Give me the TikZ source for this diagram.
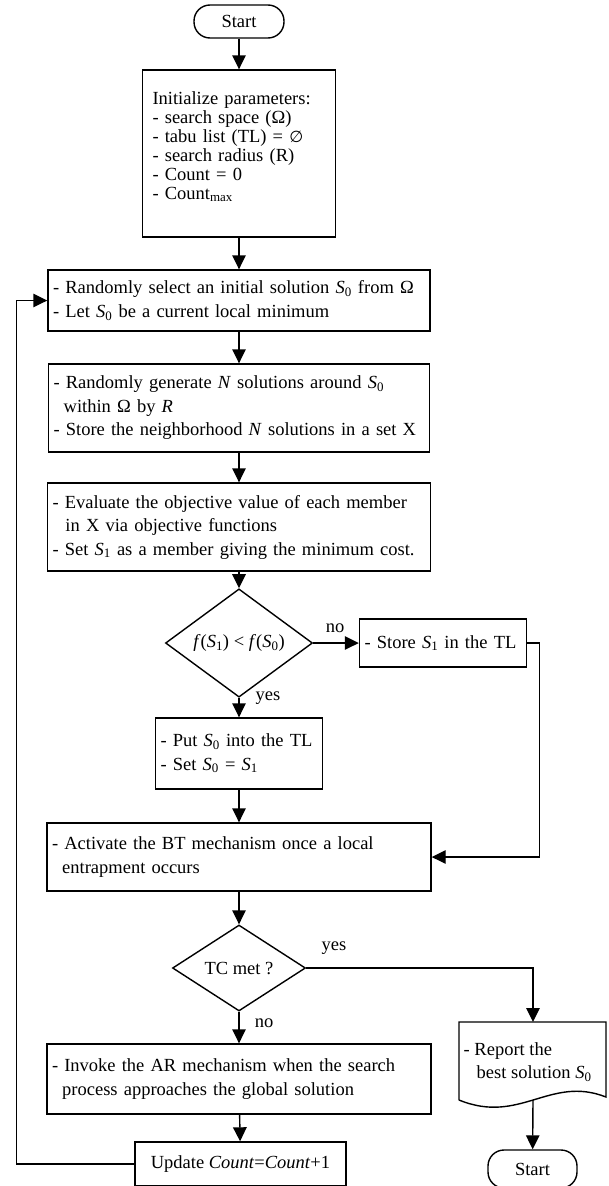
\documentclass[tikz,border=0pt]{standalone}
\usepackage{fontspec}
\setmainfont{Liberation Serif}
\newfontfamily\symfont{DejaVu Sans}
\usetikzlibrary{arrows.meta,shapes.geometric}
\newcommand{\sol}[1]{\textit{S}\textsubscript{#1}}
\newcommand{\ind}{\hspace*{0.55em}}

\begin{document}
\begin{tikzpicture}[x=1pt,y=-1pt,>={Triangle[length=14pt,width=13.5pt]},
        line width=1.4pt,font=\fontsize{18.5}{23.5}\selectfont]
        \tikzset{
            proc/.style={draw,align=left,inner xsep=5pt,inner ysep=0pt,
                text width=#1},
            term/.style={draw,rounded corners=16pt,inner sep=0pt},
            cond/.style={draw,diamond,inner sep=0pt},
            lbl/.style={inner sep=0pt}
        }
        \def\colX{239}
        \useasboundingbox (0,0) rectangle (609,1186);

        % Main column of the search loop.
        \node[term,minimum width=90pt,minimum height=33pt] (start)
            at (\colX,21.5) {Start};
        \node[proc=173pt,inner xsep=10pt,minimum height=167pt,
            font=\fontsize{18.5}{18.9}\selectfont] (init) at (\colX,153.5)
            {Initialize parameters:\\- search space (Ω)\\
             - tabu list (TL) = {\symfont\fontsize{16}{18.9}\selectfont ∅}\\
             - search radius (R)\\
             - Count = 0\\- Count\textsubscript{max}\\[-3pt]\mbox{}};
        \node[proc=372pt,minimum height=61pt] (sel) at (\colX,300.5)
            {- Randomly select an initial solution \sol{0} from Ω\\
             - Let \sol{0} be a current local minimum};
        \node[proc=371pt,minimum height=88pt] (gen) at (\colX,408)
            {- Randomly generate \textit{N} solutions around \sol{0}\\
             \ind within Ω by \textit{R}\\
             - Store the neighborhood \textit{N} solutions in a set X};
        \node[proc=373pt,minimum height=88pt] (eval) at (\colX,527)
            {- Evaluate the objective value of each member\\
             \hspace*{0.7em}in X via objective functions\\
             - Set \sol{1} as a member giving the minimum cost.};
        \node[cond,minimum width=147pt,minimum height=94pt] (better)
            at (\colX,643) {\textit{f}(\sol{1}) < \textit{f}(\sol{0})};
        \node[proc=157pt,minimum height=48pt] (store) at (443,643)
            {- Store \sol{1} in the TL};
        \node[proc=157pt,minimum height=71pt] (put) at (\colX,753.5)
            {- Put \sol{0} into the TL\\- Set \sol{0} = \sol{1}};
        \node[proc=374pt,minimum height=68pt] (bt) at (\colX,857)
            {- Activate the BT mechanism once a local\\
             \ind entrapment occurs};
        \node[cond,minimum width=133pt,minimum height=86pt] (tc)
            at (\colX,968) {TC met ?};
        \node[proc=374pt,minimum height=70pt] (ar) at (\colX,1079)
            {- Invoke the AR mechanism when the search\\
             \ind process approaches the global solution};
        \node[draw,minimum width=211pt,minimum height=44pt,inner sep=0pt]
            (upd) at (240.5,1164) {Update \textit{Count}=\textit{Count}+1};

        % Report sheet with wavy lower edge.
        \draw (459,1100) -- (459,1022) -- (606,1022) -- (606,1097)
            .. controls (550,1075) and (520,1125) .. (459,1100);
        \coordinate (reptop) at (533,1022);
        \coordinate (repbot) at (533,1100);
        \node[lbl,align=left,anchor=west] (rep) at (463,1062)
            {- Report the\\\hspace*{0.7em}best solution \sol{0}};
        \node[term,minimum width=89pt,minimum height=38pt] (stop)
            at (532.5,1169) {Start};

        % Connectors.
        \draw[->] (start) -- (init);
        \draw[->] (init) -- (sel);
        \draw[->] (sel) -- (gen);
        \draw[->] (gen) -- (eval);
        \draw[->] (eval) -- (better);
        \draw[->] (better) -- (store);
        \draw[->] (better) -- (put);
        \draw[->] (store.east) -- ++(12,0) |- (bt.east);
        \draw[->] (put) -- (bt);
        \draw[->] (bt) -- (tc);
        \draw[->] (tc) -- (ar);
        \draw[->] (tc.east) -| (reptop);
        \draw[->] (repbot) -- (stop);
        \draw[->] (ar) -- (upd);
        \draw[->] (upd.west) -- ++(-118,0) |- (sel.west);

        % Branch labels.
        \node[lbl] at (335,628) {no};
        \node[lbl] at (268,698) {yes};
        \node[lbl] at (334,948) {yes};
        \node[lbl] at (264,1023) {no};
    \end{tikzpicture}
\end{document}
